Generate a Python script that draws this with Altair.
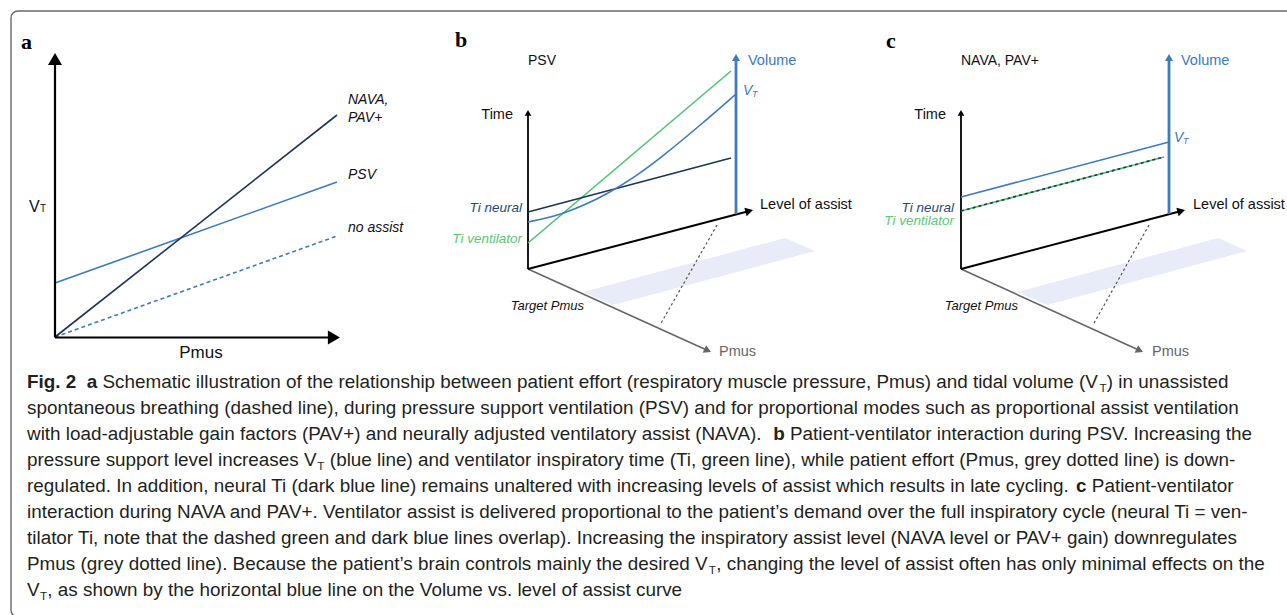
import math
import altair as alt
import pandas as pd

W, H = 1287, 615

# ======================= DATA (figure units) =======================
# Panel a - tidal volume (V_T) against patient effort (Pmus)
a_modes = ["NAVA,", "PSV", "no assist"]
a_pmus_from = [55, 55, 55]
a_vt_from = [337, 283, 337]
a_pmus_to = [337, 337, 337]
a_vt_to = [115, 182, 236]

# Panel b - PSV
b_ti_neural = [(528, 212), (731, 158)]
b_ti_ventilator = [(528, 243), (731, 71)]
b_vt_x = [528, 545, 563, 585, 607, 635, 663, 697, 736]
b_vt_y = [222, 218.5, 213.5, 205, 194, 177, 156, 128, 94]
b_pmus_dotted = [(717, 225), (660, 325)]
b_target_band = [(583, 292), (785, 238), (815, 251), (613, 305)]

# Panel c - NAVA, PAV+
c_ti = [(961, 211), (1164, 157)]
c_vt = [(961, 197), (1169, 142)]
c_pmus_dotted = [(1149, 225), (1093, 325)]
c_target_band = [(1017, 292), (1218, 238), (1247, 251), (1047, 305)]

# Axes (start, arrow tip)
a_axes = [((55, 337.5), (55, 53)), ((55, 337.5), (340, 337.5))]
b_time_axis = [((528, 269), (528, 110))]
b_level_axis = [((528, 269), (753, 210))]
b_volume_axis = [((736, 214), (736, 54))]
b_pmus_axis = [((528, 269), (711, 352))]
c_time_axis = [((961, 269), (961, 110))]
c_level_axis = [((961, 269), (1185, 210))]
c_volume_axis = [((1169, 214), (1169, 54))]
c_pmus_axis = [((961, 269), (1143, 352))]

# Caption (segments: text, style)
caption_lines = [
    [("Fig. 2", "b"), ("GAP", "gap"), ("a", "b"),
     (" Schematic illustration of the relationship between patient effort (respiratory muscle pressure, Pmus) and tidal volume (V", "r"),
     ("T", "sub"), (") in unassisted", "r")],
    [("spontaneous breathing (dashed line), during pressure support ventilation (PSV) and for proportional modes such as proportional assist ventilation", "r")],
    [("with load-adjustable gain factors (PAV+) and neurally adjusted ventilatory assist (NAVA). ", "r"), ("b", "b"),
     (" Patient-ventilator interaction during PSV. Increasing the", "r")],
    [("pressure support level increases V", "r"), ("T", "sub"),
     (" (blue line) and ventilator inspiratory time (Ti, green line), while patient effort (Pmus, grey dotted line) is down-", "r")],
    [("regulated. In addition, neural Ti (dark blue line) remains unaltered with increasing levels of assist which results in late cycling. ", "r"),
     ("c", "b"), (" Patient-ventilator", "r")],
    [("interaction during NAVA and PAV+. Ventilator assist is delivered proportional to the patient\u2019s demand over the full inspiratory cycle (neural Ti = ven-", "r")],
    [("tilator Ti, note that the dashed green and dark blue lines overlap). Increasing the inspiratory assist level (NAVA level or PAV+ gain) downregulates", "r")],
    [("Pmus (grey dotted line). Because the patient\u2019s brain controls mainly the desired V", "r"), ("T", "sub"),
     (", changing the level of assist often has only minimal effects on the", "r")],
    [("V", "r"), ("T", "sub"), (", as shown by the horizontal blue line on the Volume vs. level of assist curve", "r")],
]

# ======================= STYLE =======================
NAVY = "#1d3557"
BLUE = "#3a7bc1"
GREEN = "#4cc46d"
GREEN_TXT = "#58c878"
NAVY_TXT = "#2a4877"
GREY = "#666666"
DOT = "#555555"
BAND = "#e8ecf9"
TXT = "#111111"
CAP = "#231f20"
SANS = "Liberation Sans"
SERIF = "Liberation Serif"

xs = alt.Scale(domain=[0, W], nice=False, zero=False)
ys = alt.Scale(domain=[0, H], nice=False, zero=False, reverse=True)


def X(f):
    return alt.X(f, type="quantitative", scale=xs, axis=None)


def Y(f):
    return alt.Y(f, type="quantitative", scale=ys, axis=None)


def segs(df, **props):
    return alt.Chart(df).mark_rule(strokeCap="butt", **props).encode(
        x=X("x"), y=Y("y"), x2=alt.X2("x2"), y2=alt.Y2("y2"))


def seg_df(pairs):
    return pd.DataFrame([dict(x=p[0], y=p[1], x2=q[0], y2=q[1]) for p, q in pairs])


def arrows(pairs, color, width, head):
    h = math.sqrt(head) * math.sqrt(3) / 4
    lines, heads = [], []
    for (x0, y0), (x1, y1) in pairs:
        dx, dy = x1 - x0, y1 - y0
        L = math.hypot(dx, dy)
        ux, uy = dx / L, dy / L
        cx, cy = x1 - ux * h, y1 - uy * h
        ang = math.degrees(math.atan2(ux, -uy)) % 360
        lines.append(dict(x=x0, y=y0, x2=cx, y2=cy))
        heads.append(dict(x=cx, y=cy, ang=ang))
    l1 = segs(pd.DataFrame(lines), color=color, strokeWidth=width)
    l2 = alt.Chart(pd.DataFrame(heads)).mark_point(
        shape="triangle-up", filled=True, size=head, color=color, opacity=1, strokeWidth=0
    ).encode(x=X("x"), y=Y("y"), angle=alt.Angle("ang:Q", scale=None))
    return [l1, l2]


def texts(rows, **props):
    df = pd.DataFrame(rows, columns=["x", "y", "text"])
    return alt.Chart(df).mark_text(**props).encode(x=X("x"), y=Y("y"), text="text:N")


def band_df(v):
    (x0, y0), (x1, y1), (x2, y2), (x3, y3) = v

    def on(p, q, x):
        return p[1] + (q[1] - p[1]) * (x - p[0]) / (q[0] - p[0])

    return pd.DataFrame(dict(
        x=[x0, x3, x1, x2],
        y=[y0, on(v[0], v[1], x3), y1, y2],
        y2=[y0, y3, on(v[3], v[2], x1), y2]))


layers = []

# frame
frame = pd.DataFrame([dict(x=11, y=11, x2=1320, y2=617)])
layers.append(alt.Chart(frame).mark_rect(cornerRadius=7, fill="white", stroke="#6a6a6a", strokeWidth=1.4)
              .encode(x=X("x"), y=Y("y"), x2=alt.X2("x2"), y2=alt.Y2("y2")))

# target bands
for band in (b_target_band, c_target_band):
    layers.append(alt.Chart(band_df(band)).mark_area(color=BAND, opacity=1, interpolate="linear")
                  .encode(x=X("x"), y=Y("y"), y2=alt.Y2("y2")))

# panel a lines
a_df = pd.DataFrame(dict(mode=a_modes, x=a_pmus_from, y=a_vt_from, x2=a_pmus_to, y2=a_vt_to))
layers.append(segs(a_df[a_df["mode"] == "no assist"], color=BLUE, strokeWidth=1.6, strokeDash=[4, 3]))
layers.append(segs(a_df[a_df["mode"] == "PSV"], color=BLUE, strokeWidth=1.6))
layers.append(segs(a_df[a_df["mode"] == "NAVA,"], color=NAVY, strokeWidth=1.6))
layers += arrows(a_axes, "#000000", 2.2, 196)

# panel b
layers.append(segs(seg_df([b_pmus_dotted, c_pmus_dotted]), color=DOT, strokeWidth=1.2, strokeDash=[2.5, 2.5]))
layers += arrows(b_pmus_axis + c_pmus_axis, GREY, 1.6, 70)
layers += arrows(b_level_axis + c_level_axis, "#000000", 2.0, 80)
layers += arrows(b_time_axis + c_time_axis, "#000000", 1.8, 45)
layers.append(segs(seg_df([b_ti_ventilator]), color=GREEN, strokeWidth=1.6))
layers.append(segs(seg_df([b_ti_neural]), color=NAVY, strokeWidth=1.6))
layers.append(alt.Chart(pd.DataFrame(dict(x=b_vt_x, y=b_vt_y))).mark_line(
    color=BLUE, strokeWidth=1.6, interpolate="basis").encode(x=X("x"), y=Y("y")))
layers += arrows(b_volume_axis + c_volume_axis, BLUE, 2.8, 64)

# panel c
layers.append(segs(seg_df([c_vt]), color=BLUE, strokeWidth=1.6))
layers.append(segs(seg_df([c_ti]), color=GREEN, strokeWidth=1.6))
layers.append(segs(seg_df([c_ti]), color=NAVY, strokeWidth=1.6, strokeDash=[3, 3]))

# ---- panel texts ----
layers.append(texts([(21, 42, "a"), (455, 40, "b"), (886, 41, "c")],
                    font=SERIF, fontSize=22, fontWeight="bold", align="left", baseline="middle", color="#000"))
layers.append(texts([(348, 100, "NAVA,"), (348, 118, "PAV+"), (348, 175, "PSV"), (348, 228, "no assist")],
                    font=SANS, fontSize=14, fontStyle="italic", align="left", baseline="middle", color=TXT))
layers.append(texts([(29, 212, "V")], font=SANS, fontSize=16, align="left", baseline="alphabetic", color=TXT))
layers.append(texts([(40, 212, "T")], font=SANS, fontSize=10, align="left", baseline="alphabetic", color=TXT))
layers.append(texts([(201, 353, "Pmus")], font=SANS, fontSize=17, align="center", baseline="middle", color=TXT))

layers.append(texts([(528, 61, "PSV"), (961, 61, "NAVA, PAV+")],
                    font=SANS, fontSize=14, align="left", baseline="middle", color=TXT))
layers.append(texts([(513, 115, "Time"), (946, 115, "Time")],
                    font=SANS, fontSize=14.5, align="right", baseline="middle", color=TXT))
layers.append(texts([(760, 205, "Level of assist"), (1193, 205, "Level of assist")],
                    font=SANS, fontSize=14.5, align="left", baseline="middle", color=TXT))
layers.append(texts([(748, 61, "Volume"), (1181, 61, "Volume")],
                    font=SANS, fontSize=14.5, align="left", baseline="middle", color=BLUE))
layers.append(texts([(743, 95, "V"), (1174, 142, "V")],
                    font=SANS, fontSize=14, fontStyle="italic", align="left", baseline="alphabetic", color=BLUE))
layers.append(texts([(752, 97, "T"), (1183, 144, "T")],
                    font=SANS, fontSize=9, fontStyle="italic", align="left", baseline="alphabetic", color=BLUE))
layers.append(texts([(522, 208, "Ti neural"), (954, 208, "Ti neural")],
                    font=SANS, fontSize=13.5, fontStyle="italic", align="right", baseline="middle", color=NAVY_TXT))
layers.append(texts([(522, 239, "Ti ventilator"), (954, 221, "Ti ventilator")],
                    font=SANS, fontSize=13.5, fontStyle="italic", align="right", baseline="middle", color=GREEN_TXT))
layers.append(texts([(584, 306, "Target Pmus"), (1018, 306, "Target Pmus")],
                    font=SANS, fontSize=13, fontStyle="italic", align="right", baseline="middle", color=TXT))
layers.append(texts([(719, 352, "Pmus"), (1152, 352, "Pmus")],
                    font=SANS, fontSize=14.5, align="left", baseline="middle", color=GREY))

# ---- caption layout (Arial / Liberation Sans advance widths, 1/1000 em) ----
REG = {" ": 278, "!": 278, "(": 333, ")": 333, "+": 584, ",": 278, "-": 333, ".": 278, "=": 584,
       "\u2019": 222, ":": 278}
for ch, w in zip("0123456789", [556] * 10):
    REG[ch] = w
for ch, w in zip("ABCDEFGHIJKLMNOPQRSTUVWXYZ",
                 [667, 667, 722, 722, 667, 611, 778, 722, 278, 500, 667, 556, 833, 722, 778, 667, 778, 722,
                  667, 611, 722, 667, 944, 667, 667, 611]):
    REG[ch] = w
for ch, w in zip("abcdefghijklmnopqrstuvwxyz",
                 [556, 556, 500, 556, 556, 278, 556, 556, 222, 222, 500, 222, 833, 556, 556, 556, 556, 333,
                  500, 278, 556, 500, 722, 500, 500, 500]):
    REG[ch] = w
BOLD = {"F": 611, "i": 278, "g": 611, ".": 278, " ": 278, "2": 556, "a": 556, "b": 611, "c": 556}


def width(s, table):
    return sum(table.get(c, 556) for c in s) / 1000.0


CAP_LEFT = 27
CAP_RIGHT_L2 = 1240
CAP_SIZE = (CAP_RIGHT_L2 - CAP_LEFT) / width(caption_lines[1][0][0], REG)
SUB_SIZE = CAP_SIZE * 0.62
CAP_Y0 = 388
CAP_DY = 26

reg_rows, bold_rows, sub_rows = [], [], []
for i, line in enumerate(caption_lines):
    yb = CAP_Y0 + i * CAP_DY
    cur = CAP_LEFT
    for txt, st in line:
        if st == "gap":
            cur += 0.55 * CAP_SIZE
            continue
        if st == "sub":
            sub_rows.append((cur + 0.3, yb + 3.5, txt))
            cur += width(txt, REG) * SUB_SIZE + 0.6
            continue
        table = BOLD if st == "b" else REG
        lead = len(txt) - len(txt.lstrip(" "))
        x0 = cur + width(" " * lead, table) * CAP_SIZE
        (bold_rows if st == "b" else reg_rows).append((x0, yb, txt.strip(" ")))
        cur += width(txt, table) * CAP_SIZE

layers.append(texts(reg_rows, font=SANS, fontSize=CAP_SIZE, align="left", baseline="alphabetic", color=CAP))
layers.append(texts(bold_rows, font=SANS, fontSize=CAP_SIZE, fontWeight="bold", align="left",
                    baseline="alphabetic", color=CAP))
layers.append(texts(sub_rows, font=SANS, fontSize=SUB_SIZE, align="left", baseline="alphabetic", color=CAP))

chart = alt.layer(*layers).properties(
    width=W, height=H, padding=0, autosize=alt.AutoSizeParams(type="none"), background="white"
).configure_view(stroke=None)

chart.save("out.html", embed_options={"renderer": "svg", "actions": False})
